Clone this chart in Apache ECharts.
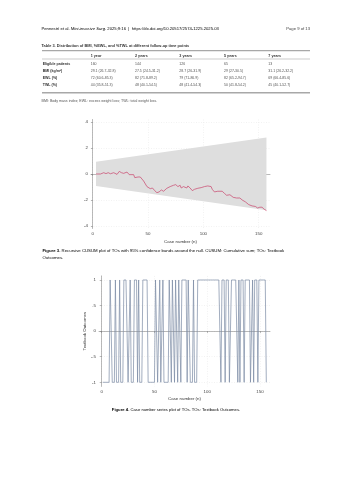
<!DOCTYPE html>
<html>
<head>
<meta charset="utf-8">
<script src="https://cdn.jsdelivr.net/npm/echarts@6/dist/echarts.min.js"></script>
<style>
  html, body { margin: 0; padding: 0; background: #fff; }
  #page { width: 353px; height: 480px; }
</style>
</head>
<body>
<div id="page"></div>
<script>
// table 3
const tableCols = ["1 year", "2 years", "3 years", "5 years", "7 years"]
const tableRows = ["Eligible patients", "BMI (kg/m²)", "EWL (%)", "TWL (%)"]
const eligiblePatients = ["160", "144", "126", "65", "13"]
const bmiValues = ["29.1 (26.7-32.8)", "27.5 (24.5-31.2)", "28.7 (26-31.9)", "29 (27-30.5)", "31.1 (26.2-32.2)"]
const ewlValues = ["72 (60.6-85.3)", "82 (71.8-89.2)", "79 (71-86.9)", "82 (65.2-94.7)", "69 (66.4-85.6)"]
const twlValues = ["44 (35.8-51.3)", "48 (40.1-54.5)", "48 (41.4-54.3)", "50 (41.8-54.2)", "45 (40.1-52.7)"]

// figure 3: recursive cusum
const cusumCase = [3, 7, 10, 12, 14, 16, 19, 22, 24, 26, 28, 31, 33, 37, 38, 41, 43, 46, 49, 52, 54, 56, 58, 60, 62, 64, 67, 70, 73, 75, 77, 79, 80, 82, 85, 86, 88, 90, 92, 95, 98, 101, 104, 107, 108, 110, 113, 117, 119, 121, 124, 127, 130, 133, 135, 138, 141, 144, 147, 149, 151, 153, 155, 157]
const cusumValue = [0, 0, 0.1, 0.03, 0.1, 0.02, 0.1, -0.03, 0.2, 0.1, 0.05, 0.15, -0.05, -0.05, -0.28, -0.23, -0.23, -0.54, -0.97, -1.13, -1.08, -1.28, -1.44, -1.38, -1.23, -1.33, -1.1, -0.97, -0.87, -0.82, -0.97, -0.87, -1.08, -0.97, -1.08, -0.92, -1.08, -1.28, -1.18, -1.1, -1.05, -0.97, -0.92, -0.97, -1.18, -1.38, -1.33, -1.33, -1.49, -1.64, -1.6, -1.8, -1.85, -1.85, -2.0, -2.15, -2.36, -2.46, -2.5, -2.62, -2.56, -2.56, -2.72, -2.82]
const bandCase = [3, 157]
const bandUpper = [0.95, 2.82]
const bandLower = [-0.92, -2.79]

// figure 4: textbook outcome per case (1 = TO achieved, -1 = not)
const toOutcome = [
  -1, -1, -1, -1, -1, -1, -1, 1, 1, -1,
  -1, -1, 1, -1, -1, -1, 1, -1, -1, -1,
  1, 1, 1, 1, -1, -1, 1, -1, -1, -1,
  1, 1, 1, -1, 1, -1, -1, -1, 1, 1,
  1, 1, 1, -1, -1, -1, -1, -1, -1, -1,
  1, 1, -1, -1, 1, -1, -1, 1, -1, -1,
  -1, -1, -1, 1, 1, -1, 1, 1, -1, 1,
  1, -1, 1, 1, -1, 1, 1, 1, 1, 1,
  -1, 1, 1, -1, -1, -1, 1, -1, -1, -1,
  1, 1, 1, 1, 1, 1, 1, 1, 1, 1,
  1, 1, 1, 1, 1, 1, 1, 1, 1, 1,
  1, 1, -1, 1, 1, 1, -1, 1, 1, 1,
  -1, -1, 1, 1, 1, 1, 1, 1, -1, 1,
  -1, 1, 1, 1, -1, 1, 1, 1, 1, 1,
  -1, -1, 1, -1, 1, 1, 1, -1, 1, 1,
  1, 1, 1, 1, 1, -1
]

const FONT = "Liberation Sans, Arial, sans-serif"
const txt = (x, y, text, size, opts) => ({
  type: "text",
  silent: true,
  style: Object.assign({
    x: x, y: y, text: text, fill: "#333",
    font: (opts && opts.bold ? "bold " : "") + size + "px " + FONT,
    textVerticalAlign: "middle"
  }, opts && opts.style)
})
const hline = (y, x1, x2, w, color) => ({
  type: "line", silent: true,
  shape: { x1: x1, y1: y, x2: x2, y2: y },
  style: { stroke: color, lineWidth: w }
})

const colX = [90.7, 135, 179.3, 224, 268.3]
const rowY = [63.7, 70.9, 78.1, 85.3]
const rowData = [eligiblePatients, bmiValues, ewlValues, twlValues]

const graphics = [
  {
    type: "text", silent: true,
    style: {
      x: 41.5, y: 29, textVerticalAlign: "middle",
      text: "{a|Pennestrì et al. }{i|Mini-invasive Surg.}{a| 2025;9:16  |  }{l|https://dx.doi.org/10.20517/2574-1225.2025.03}",
      rich: {
        a: { fontSize: 4.2, fontFamily: FONT, color: "#444" },
        i: { fontSize: 4.2, fontFamily: FONT, fontStyle: "italic", color: "#444" },
        l: { fontSize: 4.2, fontFamily: FONT, color: "#3a6fb5" }
      }
    }
  },
  txt(310, 29, "Page 9 of 13", 4.2, { style: { textAlign: "right", fill: "#444" } }),
  txt(41.5, 45.8, "Table 3. Distribution of BMI, %EWL, and %TWL at different follow-up time points", 3.9, { bold: true }),
  hline(50.6, 42, 310, 1.4, "#a8a8a8"),
  hline(59, 42, 310, 0.6, "#a8a8a8"),
  hline(92.8, 42, 310, 1.4, "#a8a8a8"),
  txt(41.5, 101, "BMI: Body mass index; EWL: excess weight loss; TWL: total weight loss.", 3.6, { style: { fill: "#555" } })
]
tableCols.forEach((c, i) => graphics.push(txt(colX[i], 55.6, c, 3.7, { bold: true })))
tableRows.forEach((r, j) => {
  graphics.push(txt(42.7, rowY[j], r, 3.6, { bold: true }))
  rowData[j].forEach((v, i) => graphics.push(txt(colX[i], rowY[j], v, 3.5, { style: { fill: "#555" } })))
})
graphics.push({
  type: "text", silent: true,
  style: {
    x: 42.5, y: 254.3, textVerticalAlign: "middle",
    text: "{b|Figure 3.}{a| Recursive CUSUM plot of TOs with 95% confidence bands around the null. CUSUM: Cumulative sum; TOs: Textbook}\n{a|Outcomes.}",
    lineHeight: 7.4,
    rich: {
      a: { fontSize: 4.3, fontFamily: FONT, color: "#555", lineHeight: 7.4 },
      b: { fontSize: 4.3, fontFamily: FONT, color: "#333", fontWeight: "bold", lineHeight: 7.4 }
    }
  }
})
graphics.push({
  type: "text", silent: true,
  style: {
    x: 176, y: 410.3, textAlign: "center", textVerticalAlign: "middle",
    text: "{b|Figure 4.}{a| Case number series plot of TOs. TOs: Textbook Outcomes.}",
    rich: {
      a: { fontSize: 4.2, fontFamily: FONT, color: "#555" },
      b: { fontSize: 4.2, fontFamily: FONT, color: "#333", fontWeight: "bold" }
    }
  }
})

const axisText = { fontSize: 4.4, fontFamily: FONT, color: "#444" }
const gridLine = { show: true, lineStyle: { color: "#e4e4e4", width: 0.5, type: [1, 1.5] } }
const axisLineStyle = { show: true, lineStyle: { color: "#777", width: 0.5 } }
const tick = (vals) => ({ show: true, length: 1.8, customValues: vals, lineStyle: { color: "#777", width: 0.5 } })

// confidence band drawn as one polygon through the axis scales
const renderBand = (params, api) => {
  if (params.dataIndex !== 0) return
  const top = bandCase.map((c, i) => api.coord([c, bandUpper[i]]))
  const bottom = bandCase.map((c, i) => api.coord([c, bandLower[i]])).reverse()
  return {
    type: "polygon",
    shape: { points: top.concat(bottom) },
    style: { fill: "#dedede" }
  }
}

const chart = echarts.init(document.getElementById("page"), null, { renderer: "canvas" })
chart.setOption({
  backgroundColor: "#fff",
  animation: false,
  graphic: graphics,
  grid: [
    { left: 91, width: 179, top: 119.5, height: 109 },
    { left: 99, width: 171, top: 275.9, height: 110.5 }
  ],
  xAxis: [
    {
      gridIndex: 0, type: "value", min: -1.54, max: 160.2,
      axisLine: axisLineStyle, axisTick: tick([0, 50, 100, 150]),
      axisLabel: Object.assign({ customValues: [0, 50, 100, 150], margin: 3 }, axisText),
      splitLine: gridLine,
      name: "Case number (n)", nameLocation: "middle", nameGap: 11.5,
      nameTextStyle: { fontSize: 4.4, fontFamily: FONT, color: "#333" }
    },
    {
      gridIndex: 1, type: "value", min: -2.56, max: 159.5,
      axisLine: axisLineStyle, axisTick: tick([0, 50, 100, 150]),
      axisLabel: Object.assign({ customValues: [0, 50, 100, 150], margin: 3 }, axisText),
      splitLine: gridLine,
      name: "Case number (n)", nameLocation: "middle", nameGap: 10,
      nameTextStyle: { fontSize: 4.4, fontFamily: FONT, color: "#333" }
    }
  ],
  yAxis: [
    {
      gridIndex: 0, type: "value", min: -4.2, max: 4.2,
      axisLine: axisLineStyle, axisTick: tick([-4, -2, 0, 2, 4]),
      axisLabel: Object.assign({ customValues: [-4, -2, 0, 2, 4], margin: 3 }, axisText),
      splitLine: gridLine
    },
    {
      gridIndex: 1, type: "value", min: -1.08, max: 1.08,
      axisLine: axisLineStyle, axisTick: tick([-1, -0.5, 0, 0.5, 1]),
      axisLabel: Object.assign({
        customValues: [-1, -0.5, 0, 0.5, 1], margin: 3,
        formatter: (v) => String(v).replace("0.", ".")
      }, axisText),
      splitLine: gridLine,
      name: "Textbook Outcomes", nameLocation: "middle", nameGap: 12,
      nameTextStyle: { fontSize: 4.4, fontFamily: FONT, color: "#333" }
    }
  ],
  series: [
    {
      type: "custom", xAxisIndex: 0, yAxisIndex: 0,
      data: bandCase.map((c, i) => [c, bandLower[i], bandUpper[i]]),
      encode: { x: 0, y: [1, 2] },
      renderItem: renderBand, silent: true, z: 1
    },
    {
      type: "line", xAxisIndex: 0, yAxisIndex: 0, z: 3,
      data: cusumCase.map((c, i) => [c, cusumValue[i]]),
      symbol: "none", lineStyle: { color: "#c8426a", width: 0.7 }
    },
    {
      type: "line", xAxisIndex: 1, yAxisIndex: 1,
      data: toOutcome.map((v, i) => [i + 1, v]),
      symbol: "none", lineStyle: { color: "#7a8aa3", width: 0.7 }
    }
  ]
})
</script>
</body>
</html>
